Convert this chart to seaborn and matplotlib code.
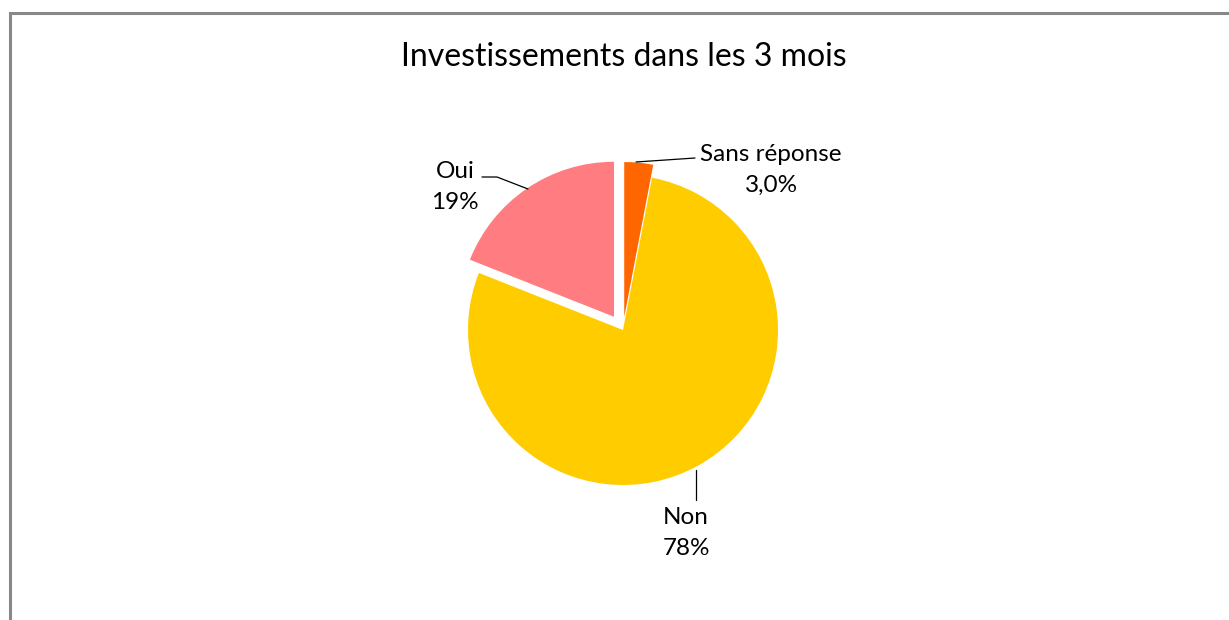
import numpy as np
import matplotlib
matplotlib.use("Agg")
import matplotlib.pyplot as plt
import seaborn as sns
from matplotlib.patches import Rectangle

sns.set_theme(style="white")
plt.rcParams['font.family'] = ['Lato', 'DejaVu Sans']

title = "Investissements dans les 3 mois"
categories = ["Sans réponse", "Non", "Oui"]
values = [3.0, 78.0, 19.0]
value_labels = ["3,0%", "78%", "19%"]
colors = ["#FF6600", "#FFCC00", "#FF7C80"]
explode_px = [13, 0, 16]

W, H = 1229, 620
fig = plt.figure(figsize=(W / 100, H / 100), dpi=100)
fig.patch.set_facecolor("white")
ax = fig.add_axes([0, 0, 1, 1])
ax.set_xlim(0, W)
ax.set_ylim(0, H)
ax.set_aspect("equal")
ax.axis("off")

center = (623, 290)
radius = 155
wedges, _ = ax.pie(values, colors=colors, startangle=90, counterclock=False,
                   radius=radius, center=center, explode=explode_px,
                   wedgeprops=dict(linewidth=0), frame=False)
ax.set_xlim(0, W)
ax.set_ylim(0, H)

# frame (left and top edges visible)
fig.add_artist(Rectangle((9.5 / W, -0.1), 1.2, (H - 12.5) / H + 0.1,
                         transform=fig.transFigure, fill=False,
                         edgecolor="#888888", linewidth=2.2))

fig.text(624 / W, 1 - 57 / H, title, ha="center", va="center",
         fontsize=23, color="black")

fs = 17.5
label_pos = {"Sans réponse": (771, 170), "Non": (686, 533), "Oui": (455, 187)}
leaders = {
    "Sans réponse": [(636, 162), (695, 158)],
    "Non": [(696, 470), (696, 500)],
    "Oui": [(528, 189), (497, 177), (482, 177)],
}
for cat, lab in zip(categories, value_labels):
    x, y = label_pos[cat]
    ax.text(x, H - y, f"{cat}\n{lab}", ha="center", va="center",
            fontsize=fs, color="black", linespacing=1.55)
    pts = np.array(leaders[cat], dtype=float)
    ax.plot(pts[:, 0], H - pts[:, 1], color="black", linewidth=0.9)

fig.savefig("out.png", dpi=100, facecolor="white")
